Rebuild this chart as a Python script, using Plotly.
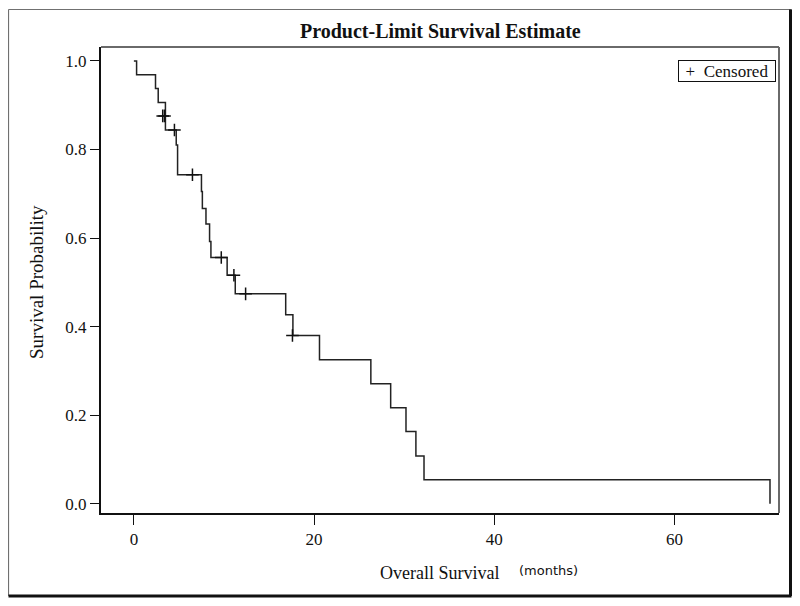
import plotly.graph_objects as go

# Kaplan-Meier step curve (event times and survival after each step)
times = [0, 0.3, 2.4, 2.7, 3.5, 4.7, 4.85, 7.5, 7.6, 8.0, 8.4, 8.55, 10.35, 11.25,
         16.85, 17.65, 20.6, 26.3, 28.5, 30.2, 31.3, 32.2, 70.6]
surv = [1.0, 0.969, 0.938, 0.906, 0.844, 0.81, 0.743, 0.705, 0.667, 0.632, 0.592,
        0.556, 0.516, 0.474, 0.427, 0.38, 0.325, 0.271, 0.217, 0.163, 0.108, 0.054, 0.0]

# Censored observations
cens_t = [3.2, 3.4, 4.5, 6.5, 9.7, 11.1, 12.4, 17.6]
cens_s = [0.876, 0.876, 0.844, 0.743, 0.556, 0.516, 0.474, 0.38]

x_ticks = [0, 20, 40, 60]
y_ticks = [0.0, 0.2, 0.4, 0.6, 0.8, 1.0]

SERIF = "Liberation Serif, Times New Roman, serif"
INK = "#111111"

fig = go.Figure()
fig.add_trace(go.Scatter(
    x=times, y=surv, mode="lines", line=dict(shape="hv", color="#222222", width=1.5),
    showlegend=False, hoverinfo="skip"))
fig.add_trace(go.Scatter(
    x=cens_t, y=cens_s, mode="markers", name="Censored",
    marker=dict(symbol="cross-thin", size=9, line=dict(color=INK, width=1.5)),
    showlegend=False))

# page is shown with an 8px body margin; figure coordinates are page - 8
fig.update_layout(
    width=784, height=590,
    margin=dict(l=93, r=13, t=39, b=85),
    paper_bgcolor="white", plot_bgcolor="white",
    font=dict(family=SERIF, size=17, color=INK),
    showlegend=False,
    xaxis=dict(range=[-3.65, 71.6], tickvals=x_ticks, ticks="outside", ticklen=10,
               tickwidth=1, tickcolor=INK, showgrid=False, zeroline=False,
               showline=True, linecolor=INK, linewidth=2,
               tickfont=dict(family=SERIF, size=17)),
    yaxis=dict(range=[-0.021, 1.0316], tickvals=y_ticks, tickformat=".1f", ticks="outside",
               ticklen=9, tickwidth=1, tickcolor=INK, showgrid=False, zeroline=False,
               showline=True, linecolor=INK, linewidth=2,
               tickfont=dict(family=SERIF, size=17)),
)

# helpers: page pixel -> paper coordinates of plot area (page x 101..779, y 47..513)
pw, ph = 678.0, 466.0
def px(v):
    return (v - 101) / pw
def py(v):
    return (513 - v) / ph

# plot frame top and right (gray)
fig.add_shape(type="line", xref="paper", yref="paper", x0=0, x1=1, y0=1, y1=1,
              line=dict(color="#6a6a6a", width=2))
fig.add_shape(type="line", xref="paper", yref="paper", x0=1, x1=1, y0=0, y1=1,
              line=dict(color="#6a6a6a", width=2))

# outer figure border
fig.add_shape(type="line", xref="paper", yref="paper", x0=px(8.5), x1=px(8.5), y0=py(9.5), y1=py(596),
              line=dict(color="#707070", width=1.2))
fig.add_shape(type="line", xref="paper", yref="paper", x0=px(8.5), x1=px(791.5), y0=py(9.5), y1=py(9.5),
              line=dict(color="#707070", width=1.2))
fig.add_shape(type="line", xref="paper", yref="paper", x0=px(790.5), x1=px(790.5), y0=py(9.5), y1=py(596),
              line=dict(color=INK, width=3))
fig.add_shape(type="line", xref="paper", yref="paper", x0=px(8.5), x1=px(791.5), y0=py(596), y1=py(596),
              line=dict(color=INK, width=3))

# title
fig.add_annotation(text="<b>Product-Limit Survival Estimate</b>", xref="paper", yref="paper",
                   x=px(440), y=py(31), xanchor="center", yanchor="middle", showarrow=False,
                   font=dict(family=SERIF, size=20, color=INK))
# y axis title
fig.add_annotation(text="Survival Probability", xref="paper", yref="paper", x=px(36), y=py(282),
                   xanchor="center", yanchor="middle", showarrow=False, textangle=-90,
                   font=dict(family=SERIF, size=19, color=INK))
# x axis title in two fonts
fig.add_annotation(text="Overall Survival", xref="paper", yref="paper", x=px(439), y=py(573),
                   xanchor="center", yanchor="middle", showarrow=False,
                   font=dict(family=SERIF, size=18, color=INK))
fig.add_annotation(text="(months)", xref="paper", yref="paper", x=px(548), y=py(570),
                   xanchor="center", yanchor="middle", showarrow=False,
                   font=dict(family="DejaVu Sans, sans-serif", size=13, color=INK))
# legend box
fig.add_annotation(text="+&nbsp;&nbsp;Censored", xref="paper", yref="paper", x=px(776), y=py(60),
                   xanchor="right", yanchor="top", showarrow=False, bgcolor="white",
                   width=94, height=18, align="center",
                   bordercolor=INK, borderwidth=1, borderpad=1,
                   font=dict(family=SERIF, size=17, color=INK))

fig.write_html("out.html")
